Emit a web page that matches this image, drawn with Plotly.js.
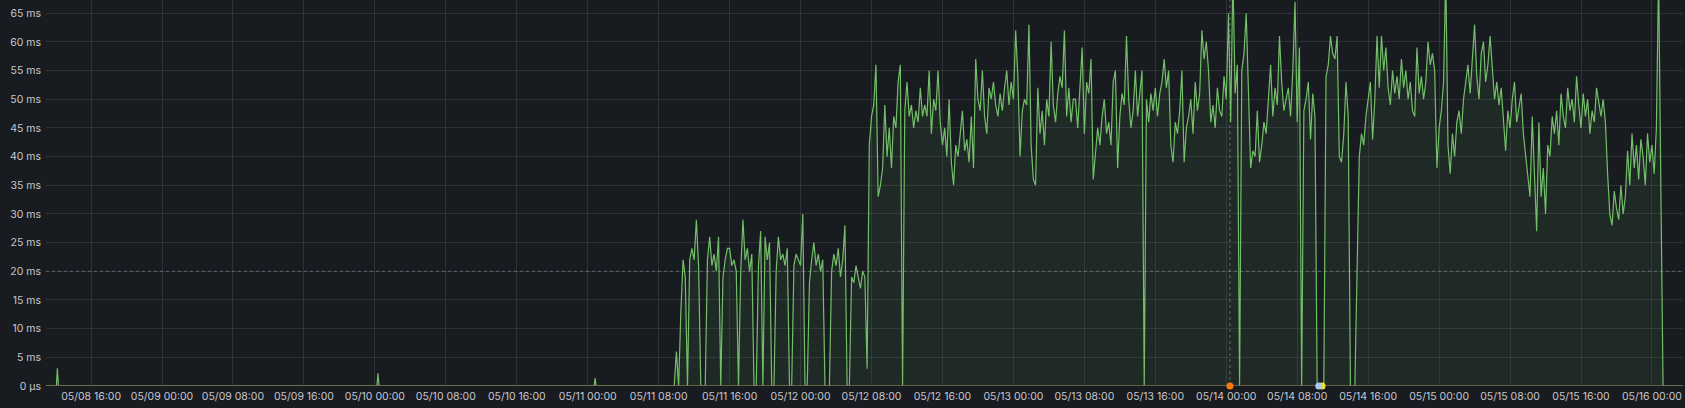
<!DOCTYPE html>
<html>
<head>
<meta charset="utf-8">
<script src="https://cdn.plot.ly/plotly-3.0.1.min.js"></script>
<style>
  html, body { margin: 0; padding: 0; background: #181b1f; }
  #chart { width: 1685px; height: 408px; }
</style>
</head>
<body>
<div id="chart"></div>
<script>
// ---- data ----
// quiet period: sparse readings (time, ms)
const idleTimes = ['2024-05-08 10:50', '2024-05-08 12:05', '2024-05-08 12:12', '2024-05-08 12:19',
                   '2024-05-10 00:14', '2024-05-10 00:21', '2024-05-10 00:28',
                   '2024-05-11 00:43', '2024-05-11 00:50', '2024-05-11 00:57'];
const idleValues = [0, 0, 3.1, 0, 0, 2.2, 0, 0, 1.4, 0];

// busy period: one reading every 15 minutes starting 05/11 08:00 (ms)
const busyStart = '2024-05-11T08:00:00';
const busyStepMinutes = 15;
const busyValues = [
  0,0,0,0,  0,0,0,0,  6,0,13,22,  19,0,22,24,  22,29,21,0,  0,0,22,26,
  21,23,20,26,  0,19,22,24,  24,21,22,20,  0,20,29,22,  24,20,23,0,  0,21,27,0,
  26,22,25,0,  0,20,26,22,  23,21,24,0,  0,21,23,22,  21,30,0,0,  18,22,25,21,
  23,20,22,0,  0,0,20,23,  21,24,19,22,  28,0,0,19,  18,21,19,17,  20,19,3,42,
  47,49,56,33,  35,38,49,40,  45,38,47,45,  53,56,0,48,  53,47,49,45,  48,46,52,47,
  49,47,55,44,  50,48,55,46,  42,45,40,50,  39,35,42,40,  44,48,41,43,  39,47,38,57,
  50,48,55,47,  44,52,50,53,  49,47,51,48,  52,55,49,53,  50,62,54,40,  48,50,49,63,
  42,36,35,52,  44,48,42,50,  47,60,49,46,  51,54,52,62,  47,52,46,50,  50,45,52,59,
  44,53,51,57,  36,40,45,42,  47,50,44,46,  42,53,55,38,  47,51,49,61,  50,45,48,55,
  47,51,55,0,  50,46,51,48,  52,47,51,53,  57,52,55,42,  39,46,44,48,  55,39,45,47,
  50,44,53,48,  51,62,57,60,  55,46,49,45,  52,48,47,54,  50,65,46,72,  51,56,0,55,
  58,65,53,38,  41,40,48,39,  42,46,44,50,  56,47,52,49,  61,53,48,50,  52,47,55,67,
  46,59,0,48,  50,53,43,51,  47,0,0,0,  0,54,56,61,  58,57,61,40,  39,44,53,47,
  0,0,0,20,  40,44,42,47,  50,53,43,50,  61,52,61,55,  59,52,49,55,  51,54,50,57,
  52,55,50,53,  48,47,59,51,  54,50,53,60,  56,58,55,38,  45,48,53,72,  42,37,44,40,
  46,48,44,50,  53,56,51,58,  63,54,50,58,  60,53,56,61,  55,50,53,49,  52,46,41,48,
  45,50,53,46,  49,51,44,40,  36,33,47,35,  27,46,33,38,  30,42,40,47,  44,48,42,51,
  47,45,52,48,  50,46,54,49,  45,51,47,50,  44,48,46,52,  49,47,50,46,  37,30,28,34,
  31,29,35,30,  33,41,35,44,  38,42,36,43,  40,35,44,39,  42,37,45,72,  35,0,0,0,
  0,0,0,0,  0,0,0,0
];

const thresholdMs = 20;
const yTickVals = [0, 5, 10, 15, 20, 25, 30, 35, 40, 45, 50, 55, 60, 65];
const yTickText = ['0 µs', '5 ms', '10 ms', '15 ms', '20 ms', '25 ms', '30 ms', '35 ms',
                   '40 ms', '45 ms', '50 ms', '55 ms', '60 ms', '65 ms'];
const xRange = ['2024-05-08 10:55', '2024-05-16 03:30'];
const yRange = [0, 67.3];

// annotations (event markers)
const annoTimes = ['2024-05-14 00:25', '2024-05-14 10:48', '2024-05-14 10:26'];
const annoKinds = ['line', 'dot', 'dot'];

// ---- build ----
function fmt(d) {
  const p = n => String(n).padStart(2, '0');
  return d.getFullYear() + '-' + p(d.getMonth() + 1) + '-' + p(d.getDate()) + ' ' + p(d.getHours()) + ':' + p(d.getMinutes());
}
const t0 = new Date(busyStart);
const busyTimes = busyValues.map((_, i) => fmt(new Date(t0.getTime() + i * busyStepMinutes * 60000)));
const allTimes = idleTimes.concat(busyTimes);
const allValues = idleValues.concat(busyValues);
const zeroLine = allTimes.map(() => 0);

const gridCol = 'rgba(204,204,220,0.12)';
const textCol = '#c7c7d1';
const font = { family: 'Inter, "Noto Sans", sans-serif', size: 10.5, color: textCol };
const annoColors = ['#ff780a', '#fade2a', '#a9c9f5'];

const traces = [
  {
    x: allTimes, y: allValues, type: 'scatter', mode: 'lines',
    line: { color: '#73bf69', width: 1.2 },
    fill: 'tozeroy', fillcolor: 'rgba(115,191,105,0.09)',
    hoverinfo: 'skip', showlegend: false
  },
  {
    x: allTimes, y: zeroLine, type: 'scatter', mode: 'lines',
    line: { color: '#7d6c52', width: 1.5 },
    hoverinfo: 'skip', showlegend: false
  },
  {
    x: annoTimes, y: annoTimes.map(() => 0), type: 'scatter', mode: 'markers',
    marker: { color: annoColors, size: 7, line: { width: 0 } },
    cliponaxis: false, hoverinfo: 'skip', showlegend: false
  }
];

const shapes = [
  { type: 'line', xref: 'paper', yref: 'y', x0: 0, x1: 1, y0: thresholdMs, y1: thresholdMs,
    line: { color: 'rgba(204,204,220,0.35)', width: 1, dash: '3px,3px' }, layer: 'below' }
];
annoTimes.forEach((t, i) => {
  if (annoKinds[i] === 'line') {
    shapes.push({ type: 'line', xref: 'x', yref: 'paper', x0: t, x1: t, y0: 0, y1: 1,
      line: { color: 'rgba(204,204,220,0.4)', width: 1, dash: '3px,3px' }, layer: 'below' });
  }
});

const layout = {
  width: 1685, height: 408,
  margin: { l: 46, r: 2, t: 0, b: 22, pad: 0 },
  paper_bgcolor: '#181b1f', plot_bgcolor: '#181b1f',
  font: font,
  showlegend: false,
  xaxis: {
    type: 'date', range: xRange,
    tick0: '2024-05-08 00:00', dtick: 8 * 3600 * 1000,
    tickformat: '%m/%d %H:%M',
    showgrid: true, gridcolor: gridCol, gridwidth: 1,
    zeroline: false, showline: false, ticks: '',
    tickfont: font, ticklabelstandoff: 2, fixedrange: true
  },
  yaxis: {
    range: yRange, tickvals: yTickVals, ticktext: yTickText,
    showgrid: true, gridcolor: gridCol, gridwidth: 1,
    zeroline: false, showline: false, ticks: '',
    tickfont: font, ticklabelstandoff: 4, fixedrange: true
  },
  shapes: shapes
};

Plotly.newPlot('chart', traces, layout, { displayModeBar: false, staticPlot: true });
</script>
</body>
</html>
